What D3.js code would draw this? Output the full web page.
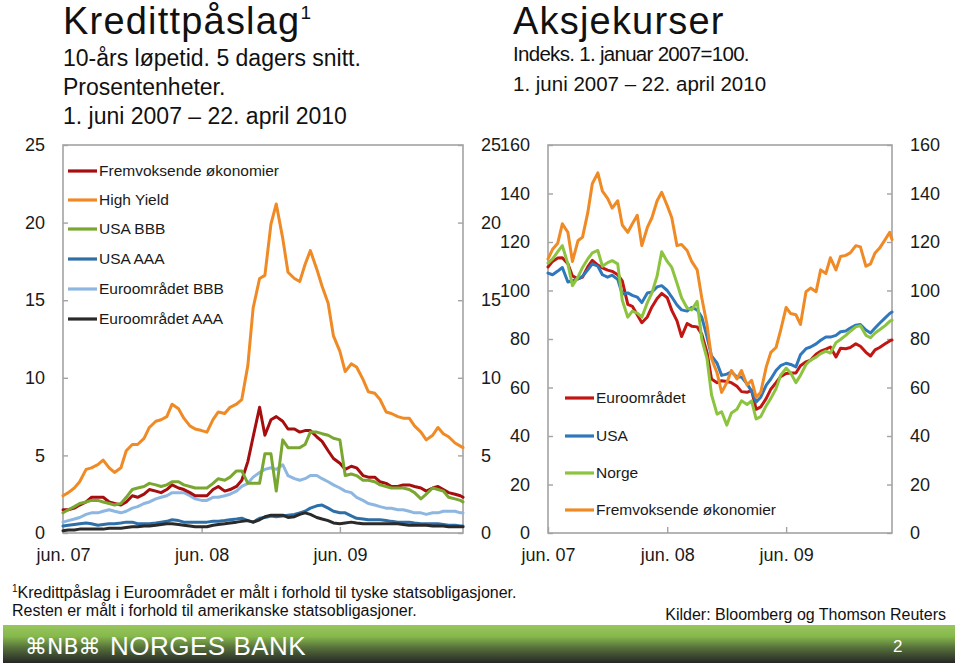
<!DOCTYPE html>
<html><head><meta charset="utf-8">
<script src="https://cdn.jsdelivr.net/npm/d3@7"></script>
<style>
body{margin:0;background:#fff}
svg{display:block;font-family:"Liberation Sans",Arial,Helvetica,sans-serif}
</style>
</head><body>
<svg id="c" width="959" height="667"></svg>
<script>
// ---------- DATA ----------
const dates = [
"2007-06-01","2007-06-15","2007-07-01","2007-07-15","2007-08-01","2007-08-15","2007-09-01","2007-09-15","2007-10-01","2007-10-15",
"2007-11-01","2007-11-15","2007-12-01","2007-12-15","2008-01-01","2008-01-15","2008-02-01","2008-02-15","2008-03-01","2008-03-15",
"2008-04-01","2008-04-15","2008-05-01","2008-05-15","2008-06-01","2008-06-15","2008-07-01","2008-07-15","2008-08-01","2008-08-15",
"2008-09-01","2008-09-15","2008-10-01","2008-10-15","2008-11-01","2008-11-15","2008-12-01","2008-12-15","2009-01-01","2009-01-15",
"2009-02-01","2009-02-15","2009-03-01","2009-03-15","2009-04-01","2009-04-15","2009-05-01","2009-05-15","2009-06-01","2009-06-15",
"2009-07-01","2009-07-15","2009-08-01","2009-08-15","2009-09-01","2009-09-15","2009-10-01","2009-10-15","2009-11-01","2009-11-15",
"2009-12-01","2009-12-15","2010-01-01","2010-01-15","2010-02-01","2010-02-15","2010-03-01","2010-03-15","2010-04-01","2010-04-15",
"2010-04-22"];

// Kredittpåslag (prosentenheter)
const spreadNames = ["Fremvoksende økonomier","High Yield","USA BBB","USA AAA","Euroområdet BBB","Euroområdet AAA"];
const emergingSpread = [1.5,1.5,1.6,1.8,2.0,2.3,2.3,2.3,2.0,1.9,
 1.8,2.0,2.4,2.3,2.5,2.8,2.7,2.6,2.8,3.1,
 2.9,2.8,2.6,2.4,2.4,2.4,2.8,3.0,2.7,2.8,
 3.0,3.4,4.6,6.2,8.1,6.3,7.3,7.5,7.2,6.7,
 6.7,6.5,6.6,6.6,6.2,5.9,5.3,4.8,4.5,4.1,
 4.3,4.2,3.7,3.6,3.6,3.3,3.2,3.0,3.0,3.1,
 3.1,3.0,2.9,2.7,2.9,3.0,2.8,2.6,2.5,2.4,
 2.3];
const highYield = [2.4,2.6,2.9,3.3,4.1,4.2,4.4,4.7,4.2,3.9,
 4.2,5.3,5.7,5.7,6.1,6.8,7.2,7.3,7.5,8.3,
 8.0,7.4,6.9,6.7,6.6,6.5,7.3,7.8,7.7,8.1,
 8.3,8.6,10.8,14.5,16.4,16.6,19.9,21.2,19.0,16.8,
 16.4,16.2,17.3,18.2,17.0,15.9,14.8,12.7,11.7,10.4,
 10.9,10.7,9.9,9.1,9.0,8.6,7.8,7.7,7.5,7.4,
 7.4,6.9,6.5,6.0,6.3,6.8,6.4,6.2,5.8,5.6,
 5.5];
const usaBBB = [1.3,1.5,1.7,1.9,2.0,2.1,2.1,2.0,1.9,1.8,
 1.9,2.3,2.8,2.9,3.0,3.2,3.1,3.0,3.1,3.3,
 3.3,3.1,3.0,2.9,2.9,2.9,3.2,3.5,3.4,3.6,
 4.0,4.0,3.2,3.2,3.2,5.1,5.1,2.7,6.0,5.5,
 5.5,5.5,5.7,6.5,6.5,6.4,6.3,6.1,6.0,3.7,
 3.8,3.7,3.4,3.4,3.3,3.1,3.0,2.9,2.9,2.9,
 2.8,2.6,2.2,2.5,2.9,2.8,2.7,2.3,2.2,2.1,
 2.0];
const usaAAA = [0.45,0.5,0.55,0.6,0.65,0.6,0.5,0.55,0.6,0.6,
 0.65,0.7,0.7,0.6,0.6,0.6,0.65,0.7,0.75,0.85,
 0.8,0.7,0.7,0.7,0.7,0.7,0.75,0.75,0.8,0.85,
 0.9,0.95,0.8,0.7,0.95,1.0,1.1,1.05,1.1,1.15,
 1.2,1.3,1.4,1.6,1.75,1.8,1.6,1.4,1.3,1.3,
 1.1,0.95,0.9,0.85,0.85,0.85,0.8,0.75,0.7,0.7,
 0.7,0.65,0.6,0.6,0.6,0.6,0.55,0.5,0.5,0.45,
 0.45];
const euroBBB = [0.7,0.8,0.9,1.0,1.2,1.3,1.3,1.4,1.5,1.4,
 1.3,1.4,1.6,1.7,1.9,2.0,2.2,2.3,2.4,2.6,
 2.6,2.6,2.4,2.2,2.1,2.1,2.3,2.3,2.4,2.5,
 2.7,3.0,3.2,3.6,3.9,4.1,4.2,4.1,4.4,3.7,
 3.5,3.4,3.5,3.7,3.7,3.5,3.3,3.1,2.9,2.7,
 2.6,2.3,2.1,1.9,1.8,1.7,1.6,1.6,1.5,1.5,
 1.4,1.3,1.3,1.2,1.3,1.3,1.4,1.4,1.4,1.3,
 1.3];
const euroAAA = [0.15,0.2,0.2,0.25,0.25,0.25,0.25,0.25,0.3,0.3,
 0.3,0.35,0.4,0.4,0.45,0.45,0.5,0.55,0.6,0.6,
 0.55,0.5,0.45,0.4,0.4,0.4,0.5,0.55,0.6,0.65,
 0.7,0.75,0.8,0.7,0.85,1.05,1.15,1.15,1.15,1.0,
 1.05,1.2,1.3,1.2,1.0,0.9,0.8,0.65,0.6,0.65,
 0.7,0.65,0.6,0.6,0.6,0.6,0.6,0.6,0.6,0.55,
 0.5,0.5,0.5,0.5,0.45,0.45,0.45,0.4,0.4,0.4,
 0.4];

// Aksjekurser (indeks, 1. januar 2007 = 100)
const stockNames = ["Euroområdet","USA","Norge","Fremvoksende økonomier"];
const euroStocks = [109.7,112,113.4,113.5,111,106,104.8,105.5,109.7,112.4,
 110.5,109.3,108.4,107.9,106.5,104,94.3,93.5,90,86.7,
 89.1,93.2,96.7,98.8,97,91.8,87.5,81,86.4,85.3,
 85,82,74.5,63.5,62,62.8,62.5,62,60.5,58.3,
 58,58.8,51,52,55.5,59.3,62,64.5,65.8,66,
 66,69,70.6,71.3,73.7,75,75.8,76.7,72.6,76.2,
 76,76.5,78,77,74.5,73,75.5,76.5,78,79.2,
 79.6];
const usaStocks = [107.2,106.5,108,109.5,103.5,104,104.8,105.8,108.5,111,
 110,106.5,105.5,106.3,104.6,98.5,99,98,97.3,95,
 99,99.4,101.5,102,100,97.3,94,92,91.5,93,
 92,89,81,73,70,65,65.5,66.5,64.3,64.3,
 61.5,58.5,54,56,61,63.5,67,69,70,69.5,
 68.5,73.5,76,76.7,78,79.5,80.8,80.8,81.5,83,
 83.3,84.5,85.7,86,83.7,82.5,84.5,86.5,88.7,90.5,
 91.1];
const norwayStocks = [111.3,113,116,118.5,111,102,105.5,109.5,113,115.5,
 116.5,110,111.5,112.3,111,96,89,91.5,90.7,89,
 95,99,106,116,112,109.5,103,97,92.8,92,
 95.5,80,72,57,49,50,44.5,49.5,51,54.5,
 53,54.5,47,48,52.5,55.5,59.5,65,68,66,
 62,65,69.5,71.3,72.5,74,75,74.2,78.5,79.8,
 81.5,83.2,85,85.5,81.5,80.5,82.5,83.8,85.5,87.3,
 87.8];
const emergingStocks = [113,117,119.5,127.5,124,112,120.5,122,132,144,
 148.5,141,138,134,137,127,124,127.5,131,118.5,
 126,130,137,140.5,135,130,118.5,119,116.5,112,
 108.5,97,86,72,66,58,62,67,63.5,67,
 61,63,56,58,68.5,74.5,76.5,83.5,93,90.5,
 90,86,99.5,101,99.5,108.5,107,113.5,108.5,114,
 114.5,115.5,118.5,118,110,111,115.5,117.5,121,124,
 121];

const spreadTicks = [0,5,10,15,20,25];
const stockTicks = [0,20,40,60,80,100,120,140,160];
const xTickDates = ["2007-06-01","2008-06-01","2009-06-01"];
const xTickLabels = ["jun. 07","jun. 08","jun. 09"];

// ---------- DRAW ----------
const parse = d3.timeParse("%Y-%m-%d");
const D = dates.map(parse);
const svg = d3.select("#c");
svg.append("rect").attr("width",959).attr("height",667).attr("fill","#fff");

const axisColor = "#a3a3a3";
const textColor = "#1a1a1a";

function frame(x0,x1,y0,y1){
  svg.append("rect").attr("x",x0).attr("y",y0).attr("width",x1-x0).attr("height",y1-y0)
    .attr("fill","none").attr("stroke",axisColor).attr("stroke-width",1.6);
}
function styleAxis(g){
  g.select(".domain").remove();
  g.selectAll(".tick line").attr("stroke",axisColor).attr("stroke-width",1.4);
  g.selectAll(".tick text").attr("fill",textColor).style("font-size","18px")
    .style("font-family",'"Liberation Sans",Arial,sans-serif');
}

function chart(cfg){
  const x = d3.scaleTime().domain([parse("2007-06-01"),parse("2010-04-22")]).range([cfg.x0,cfg.x1]);
  const y = d3.scaleLinear().domain([0,cfg.ymax]).range([533,145]);
  frame(cfg.x0,cfg.x1,145,533);
  const gl = svg.append("g").attr("transform",`translate(${cfg.x0},0)`)
    .call(d3.axisLeft(y).tickValues(cfg.ticks).tickSize(-5).tickPadding(18).tickFormat(d3.format("d")));
  styleAxis(gl);
  const gr = svg.append("g").attr("transform",`translate(${cfg.x1},0)`)
    .call(d3.axisRight(y).tickValues(cfg.ticks).tickSize(-5).tickPadding(18).tickFormat(d3.format("d")));
  styleAxis(gr);
  const gb = svg.append("g").attr("transform","translate(0,533)")
    .call(d3.axisBottom(x).tickValues(xTickDates.map(parse)).tickSize(-6).tickPadding(15)
      .tickFormat((d,i)=>xTickLabels[i]));
  styleAxis(gb);
  const line = d3.line().x((d,i)=>x(D[i])).y(d=>y(d));
  cfg.series.forEach(s=>{
    svg.append("path").datum(s.values).attr("d",line).attr("fill","none")
      .attr("stroke",s.color).attr("stroke-width",3).attr("stroke-linejoin","round").attr("stroke-linecap","round");
  });
  cfg.legend.forEach((s,i)=>{
    const yy = cfg.legY[i];
    svg.append("line").attr("x1",cfg.legX).attr("x2",cfg.legX+29).attr("y1",yy).attr("y2",yy)
      .attr("stroke",s.color).attr("stroke-width",3.2);
    svg.append("text").attr("x",cfg.legX+31).attr("y",yy).attr("dy","0.35em")
      .attr("fill",textColor).style("font-size","15.5px").text(s.name);
  });
}

const cRed="#a50d0f", cOrange="#ef8a25", cGreen="#79a730", cBlue="#2f6fa8", cLBlue="#8db7e1", cBlack="#2a2a2a";
const spreadSeries = {
  em:{name:spreadNames[0],values:emergingSpread,color:cRed},
  hy:{name:spreadNames[1],values:highYield,color:cOrange},
  ub:{name:spreadNames[2],values:usaBBB,color:cGreen},
  ua:{name:spreadNames[3],values:usaAAA,color:cBlue},
  eb:{name:spreadNames[4],values:euroBBB,color:cLBlue},
  ea:{name:spreadNames[5],values:euroAAA,color:cBlack}
};
chart({x0:63,x1:463,ymax:25,ticks:spreadTicks,
  series:[spreadSeries.eb,spreadSeries.ua,spreadSeries.ea,spreadSeries.em,spreadSeries.ub,spreadSeries.hy],
  legend:[spreadSeries.em,spreadSeries.hy,spreadSeries.ub,spreadSeries.ua,spreadSeries.eb,spreadSeries.ea],
  legX:68, legY:[171,200,229,259,289,319]});

const sRed="#c21612", sBlue="#2f78bb", sGreen="#8cc43f", sOrange="#ef8a25";
const stockSeries = [
  {name:stockNames[0],values:euroStocks,color:sRed},
  {name:stockNames[1],values:usaStocks,color:sBlue},
  {name:stockNames[2],values:norwayStocks,color:sGreen},
  {name:stockNames[3],values:emergingStocks,color:sOrange}
];
chart({x0:548,x1:892,ymax:160,ticks:stockTicks,series:stockSeries,legend:stockSeries,
  legX:565, legY:[398,436,473,510]});

// ---------- TITLES ----------
const t1 = svg.append("text").attr("x",63).attr("y",34).attr("fill","#111").style("font-size","38px")
  .style("letter-spacing","1.2px").text("Kredittpåslag");
t1.append("tspan").attr("dy",-15).style("font-size","19px").style("letter-spacing","0px").text("1");
[["10-års løpetid. 5 dagers snitt.",66],["Prosentenheter.",95],["1. juni 2007 – 22. april 2010",124]].forEach(([t,yy])=>{
  svg.append("text").attr("x",63).attr("y",yy).attr("fill","#111").style("font-size","23px").text(t);
});
svg.append("text").attr("x",513).attr("y",34).attr("fill","#111").style("font-size","38px")
  .style("letter-spacing","1.2px").text("Aksjekurser");
svg.append("text").attr("x",513).attr("y",61).attr("fill","#111").style("font-size","20.5px")
  .style("letter-spacing","-0.7px").text("Indeks. 1. januar 2007=100.");
svg.append("text").attr("x",513).attr("y",91).attr("fill","#111").style("font-size","20.5px")
  .text("1. juni 2007 – 22. april 2010");

// ---------- FOOTER ----------
const f1 = svg.append("text").attr("x",12).attr("y",598).attr("fill","#111").style("font-size","16px");
f1.append("tspan").attr("dy",-6).style("font-size","10px").text("1");
f1.append("tspan").attr("dy",6).text("Kredittpåslag i Euroområdet er målt i forhold til tyske statsobligasjoner.");
svg.append("text").attr("x",12).attr("y",616).attr("fill","#111").style("font-size","16px")
  .text("Resten er målt i forhold til amerikanske statsobligasjoner.");
svg.append("text").attr("x",946).attr("y",620).attr("text-anchor","end").attr("fill","#111").style("font-size","16px")
  .text("Kilder: Bloomberg og Thomson Reuters");

const defs = svg.append("defs");
const gr = defs.append("linearGradient").attr("id","bar").attr("x1",0).attr("y1",0).attr("x2",0).attr("y2",1);
[["0%","#98c75d"],["30%","#86b84c"],["60%","#56703a"],["100%","#262626"]].forEach(([o,c])=>
  gr.append("stop").attr("offset",o).attr("stop-color",c));
svg.append("rect").attr("x",3).attr("y",625).attr("width",952).attr("height",38).attr("fill","url(#bar)");
svg.append("text").attr("x",25).attr("y",654).attr("fill","#fff").style("font-size","22px")
  .style("font-family",'"DejaVu Sans","Liberation Sans",sans-serif').text("⌘NB⌘");
svg.append("text").attr("x",110).attr("y",655).attr("fill","#fff").style("font-size","26px")
  .style("letter-spacing","0.5px").text("NORGES BANK");
svg.append("text").attr("x",893).attr("y",652).attr("fill","#fff").style("font-size","17px").text("2");
</script>
</body></html>
